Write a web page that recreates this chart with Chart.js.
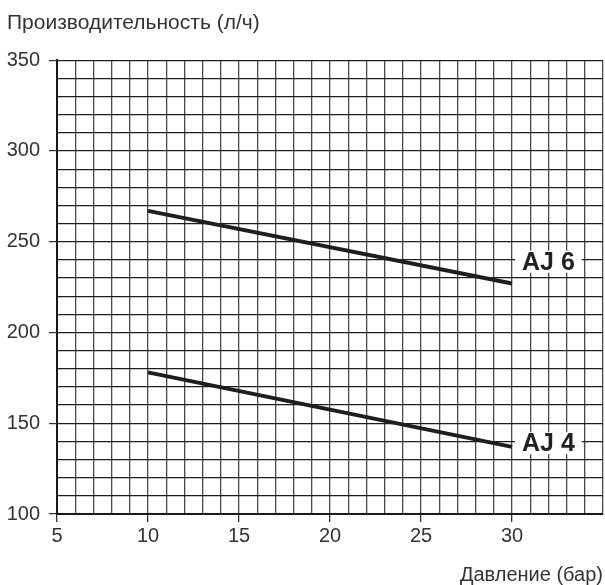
<!DOCTYPE html>
<html>
<head>
<meta charset="utf-8">
<script src="https://cdn.jsdelivr.net/npm/chart.js@4/dist/chart.umd.min.js"></script>
<style>
    body { margin: 0; background: #fff; }
    canvas { display: block; }
</style>
</head>
<body>
<canvas id="chart" width="605" height="585"></canvas>
<script>
// pressure, bar
const pressure = [10, 30];
// capacity, l/h
const aj6 = [267, 227];
const aj4 = [178, 137];
const seriesNames = ['AJ 6', 'AJ 4'];

const xTickLabels = [5, 10, 15, 20, 25, 30];
const yTickLabels = [100, 150, 200, 250, 300, 350];

const textColor = '#333';
const lineColor = '#1e1e1e';
const fontFamily = '"Liberation Sans", Arial, sans-serif';

// white-boxed curve names at the right end of each line
const curveLabels = {
    id: 'curveLabels',
    afterDatasetsDraw(chart, args, opts) {
        const ctx = chart.ctx;
        const xs = chart.scales.x;
        const ys = chart.scales.y;
        ctx.save();
        ctx.font = 'bold 25px ' + fontFamily;
        ctx.textBaseline = 'middle';
        chart.data.datasets.forEach((ds, i) => {
            const last = ds.data.length - 1;
            const x = xs.getPixelForValue(pressure[last]) + 10;
            const y = ys.getPixelForValue(opts.at[i]);
            const w = ctx.measureText(ds.label).width;
            ctx.fillStyle = '#fff';
            ctx.fillRect(x - 7, y - 11, w + 14, 22);
            ctx.fillStyle = '#222';
            ctx.fillText(ds.label, x, y + 1);
        });
        ctx.restore();
    }
};

new Chart(document.getElementById('chart'), {
    type: 'line',
    data: {
        labels: pressure,
        datasets: [{
            label: seriesNames[0],
            data: aj6,
        }, {
            label: seriesNames[1],
            data: aj4,
        }]
    },
    options: {
        responsive: false,
        animation: false,
        layout: {
            padding: { left: 7, right: -2, top: 0, bottom: 0 }
        },
        elements: {
            line: { borderColor: lineColor, borderWidth: 4, tension: 0 },
            point: { radius: 0 }
        },
        plugins: {
            legend: { display: false },
            tooltip: { enabled: false },
            title: {
                display: true,
                text: 'Производительность (л/ч)',
                align: 'start',
                color: textColor,
                font: { family: fontFamily, size: 21, weight: 'normal' },
                padding: { top: 11, bottom: 24 }
            },
            curveLabels: { at: [239, 139] }
        },
        scales: {
            x: {
                type: 'linear',
                min: 5,
                max: 35,
                ticks: {
                    stepSize: 1,
                    autoSkip: false,
                    maxRotation: 0,
                    padding: 2,
                    color: textColor,
                    font: { family: fontFamily, size: 20 },
                    callback: v => xTickLabels.includes(v) ? String(v) : ''
                },
                grid: {
                    color: '#4a4a4a',
                    lineWidth: 1.3,
                    tickLength: 8,
                    tickColor: c => xTickLabels.includes(c.tick.value) ? '#333' : 'rgba(0,0,0,0)'
                },
                border: { color: '#1a1a1a', width: 2 },
                title: {
                    display: true,
                    text: 'Давление (бар)',
                    align: 'end',
                    color: textColor,
                    font: { family: fontFamily, size: 20, lineHeight: 1 },
                    padding: { top: 15, bottom: 0 }
                }
            },
            y: {
                min: 100,
                max: 350,
                ticks: {
                    stepSize: 10,
                    autoSkip: false,
                    padding: 9,
                    color: textColor,
                    font: { family: fontFamily, size: 20 },
                    callback: v => yTickLabels.includes(v) ? String(v) : ''
                },
                grid: {
                    color: '#1e1e1e',
                    lineWidth: 1.2,
                    tickLength: 8,
                    tickColor: c => yTickLabels.includes(c.tick.value) ? '#333' : 'rgba(0,0,0,0)'
                },
                border: { color: '#1a1a1a', width: 2 },
                afterFit: s => { s.width = 50; }
            }
        }
    },
    plugins: [curveLabels]
});
</script>
</body>
</html>
